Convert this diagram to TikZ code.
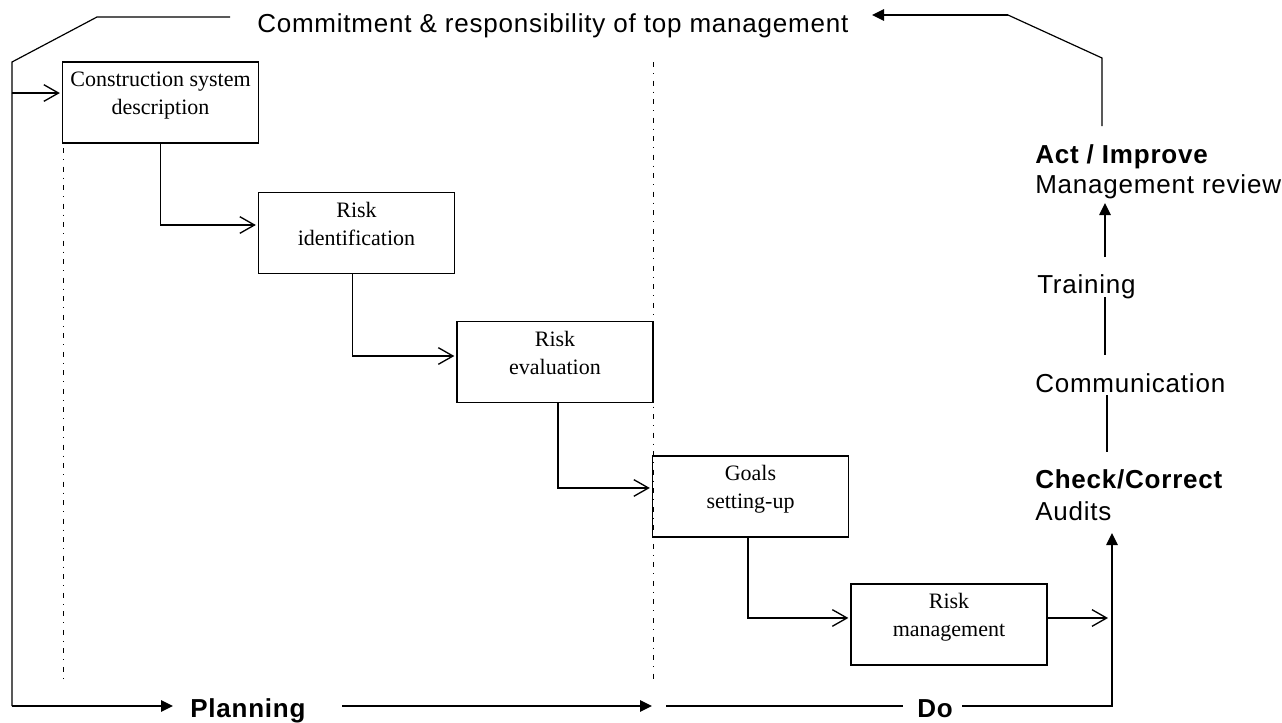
\documentclass[tikz,border=0pt]{standalone}
\usepackage{fontspec}
\setmainfont{Liberation Serif}
\newfontfamily\sansf[LetterSpace=3]{Liberation Sans}
\usetikzlibrary{arrows.meta,calc}
\begin{document}
\begin{tikzpicture}[x=0.75pt,y=-0.75pt,
  box/.style={draw,line width=1pt,minimum width=147pt,minimum height=60.75pt,inner sep=0pt,outer sep=0pt},
  boxtext/.style={anchor=north,align=center,font=\fontsize{16.5}{21}\selectfont,inner sep=0pt},
  lbl/.style={anchor=base west,inner sep=0pt,font=\sansf\fontsize{19.5}{23}\selectfont},
  blbl/.style={anchor=base west,inner sep=0pt,font=\sansf\bfseries\fontsize{19.5}{23}\selectfont},
  conn/.style={line width=1.3pt,-{Straight Barb[length=11pt,width=12.5pt,line width=1pt]}},
  tri/.style={line width=1.2pt,-{Triangle[length=9pt,width=8.5pt]}},
  thinl/.style={line width=0.9pt},
  dashdot/.style={line width=0.6pt,dash pattern=on 3.75pt off 4.5pt on 0.75pt off 4.9pt}
]
\useasboundingbox (0,0) rectangle (1282,722);

% separators
\coordinate (d1a) at (63,148); \coordinate (d1b) at (63,678);
\coordinate (d2a) at (653,62); \coordinate (d2b) at (653,683);
\draw[dashdot] (d1a) -- (d1b);
\draw[dashdot] (d2a) -- (d2b);

% boxes
\node[box] (b1) at (160.5,102.5) {};
\node[boxtext] (t1) at ([yshift=-7pt]b1.north) {Construction system\\description};
\node[box] (b2) at (356.5,233) {};
\node[boxtext] (t2) at ([yshift=-7pt]b2.north) {Risk\\identification};
\node[box] (b3) at (555,362) {};
\node[boxtext] (t3) at ([yshift=-7pt]b3.north) {Risk\\evaluation};
\node[box] (b4) at (750.5,496.5) {};
\node[boxtext] (t4) at ([yshift=-7pt]b4.north) {Goals\\setting-up};
\node[box] (b5) at (949,624.5) {};
\node[boxtext] (t5) at ([yshift=-7pt]b5.north) {Risk\\management};

% box connectors
\draw[conn,shorten >=2pt] (b1.south) |- ([yshift=6pt]b2.west);
\draw[conn,shorten >=2pt] ([xshift=-3pt]b2.south) |- ([yshift=4.5pt]b3.west);
\draw[conn,shorten >=2pt] ([xshift=2pt]b3.south) |- ([yshift=6.4pt]b4.west);
\draw[conn,shorten >=2pt] ([xshift=-2pt]b4.south) |- ([yshift=4.9pt]b5.west);
\coordinate (rmend) at (1108,618);
\draw[conn] ([yshift=4.9pt]b5.east) -- (rmend);

% top text and frame
\node[lbl] (cm) at (257,32) {Commitment \& responsibility of top management};
\coordinate (tl1) at (12,62); \coordinate (tl2) at (97,17); \coordinate (tl3) at (230,17);
\coordinate (bl) at (12,706); \coordinate (pltip) at (173,706);
\draw[thinl] (tl3) -- (tl2) -- (tl1) -- (bl);
\draw[tri] (bl) -- (pltip);
\coordinate (inb1) at (12,93);
\draw[conn,shorten >=2pt] (inb1) -- ([yshift=7.1pt]b1.west);

\coordinate (tr1) at (1102,126); \coordinate (tr2) at (1102,58);
\coordinate (tr3) at (1008,15); \coordinate (tr4) at (872,15);
\draw[thinl] (tr1) -- (tr2) -- (tr3);
\draw[tri] (tr3) -- (tr4);

% bottom
\node[blbl] (plan) at (190,717) {Planning};
\coordinate (p1) at (342,706); \coordinate (p2) at (652,706);
\draw[tri] (p1) -- (p2);
\node[blbl] (do) at (917,717) {Do};
\coordinate (q1) at (666,706); \coordinate (q2) at (903,706);
\coordinate (q3) at (962,706); \coordinate (q4) at (1112,706); \coordinate (q5) at (1112,533);
\draw[thinl] (q1) -- (q2);
\draw[tri] (q3) -- (q4) -- (q5);

% right column
\node[blbl] (act) at (1035,163) {Act / Improve};
\node[lbl] (mr) at (1035,193) {Management review};
\node[lbl] (tr) at (1037,293) {Training};
\node[lbl] (com) at (1035,392) {Communication};
\node[blbl] (chk) at (1035,488) {Check/Correct};
\node[lbl] (aud) at (1035,520) {Audits};
\coordinate (r1) at (1105,257); \coordinate (r2) at (1105,203);
\coordinate (r3) at (1105,297); \coordinate (r4) at (1105,355);
\coordinate (r5) at (1107,395); \coordinate (r6) at (1107,452);
\draw[tri] (r1) -- (r2);
\draw[thinl] (r3) -- (r4);
\draw[thinl] (r5) -- (r6);
\end{tikzpicture}
\end{document}
